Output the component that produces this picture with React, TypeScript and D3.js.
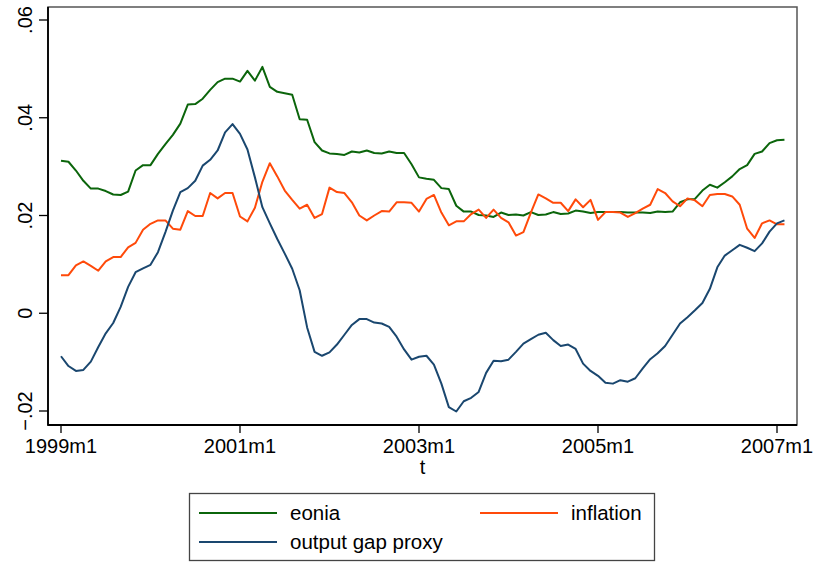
import * as d3 from 'd3';

// monthly series, 1999m1 .. 2007m2
const eonia = [
  0.0312, 0.031, 0.0292, 0.0271, 0.0255, 0.0255, 0.025, 0.0243, 0.0242, 0.0249,
  0.0292, 0.0303, 0.0303, 0.0326, 0.0346, 0.0365, 0.0388, 0.0427, 0.0428, 0.0439,
  0.0457, 0.0473, 0.048, 0.048, 0.0474, 0.0496, 0.0476, 0.0504, 0.0463, 0.0453,
  0.045, 0.0447, 0.0397, 0.0396, 0.035, 0.0333, 0.0327, 0.0326, 0.0324, 0.0331,
  0.0329, 0.0333, 0.0328, 0.0327, 0.0331, 0.0328, 0.0328, 0.0305, 0.0278, 0.0275,
  0.0273, 0.0256, 0.0254, 0.022, 0.0208, 0.0208, 0.0201, 0.02, 0.0197, 0.0206,
  0.0201, 0.0202, 0.02, 0.0207, 0.0201, 0.0202, 0.0207, 0.0203, 0.0204, 0.021,
  0.0208, 0.0205, 0.0207, 0.0207, 0.0207, 0.0207, 0.0206, 0.0206, 0.0206, 0.0205,
  0.0208, 0.0207, 0.0208, 0.0227, 0.0233, 0.0234, 0.0251, 0.0263, 0.0257, 0.0268,
  0.028, 0.0295, 0.0303, 0.0326, 0.0331, 0.0348, 0.0354, 0.0355,
];

const inflation = [
  0.0078, 0.0078, 0.0098, 0.0106, 0.0097, 0.0087, 0.0106, 0.0115, 0.0115, 0.0135,
  0.0144, 0.0171, 0.0183, 0.019, 0.019, 0.0173, 0.0171, 0.0209, 0.0199, 0.0199,
  0.0246, 0.0235, 0.0246, 0.0246, 0.0198, 0.0188, 0.0216, 0.0269, 0.0307, 0.028,
  0.0251, 0.0232, 0.0214, 0.0222, 0.0195, 0.0203, 0.0257, 0.0248, 0.0246, 0.0227,
  0.02, 0.019, 0.02, 0.0209, 0.0208, 0.0227, 0.0227, 0.0226, 0.0208, 0.0234,
  0.0242, 0.0206, 0.018, 0.0188, 0.0188, 0.0203, 0.0212, 0.0195, 0.0212, 0.0195,
  0.0186, 0.0159, 0.0166, 0.0206, 0.0243, 0.0235, 0.0226, 0.0226, 0.0209, 0.0233,
  0.0217, 0.0232, 0.0191, 0.0207, 0.0207, 0.0206, 0.0197, 0.0205, 0.0214, 0.0222,
  0.0254, 0.0246, 0.0229, 0.0219, 0.0235, 0.0231, 0.0219, 0.0242, 0.0244, 0.0244,
  0.0239, 0.0222, 0.0173, 0.0154, 0.0184, 0.019, 0.0182, 0.0182,
];

const outputGap = [
  -0.0088, -0.0108, -0.0118, -0.0116, -0.0099, -0.0069, -0.0041, -0.002, 0.0013, 0.0054,
  0.0084, 0.0092, 0.0099, 0.0125, 0.0166, 0.021, 0.0248, 0.0256, 0.0271, 0.0302,
  0.0314, 0.0333, 0.037, 0.0387, 0.0367, 0.0335, 0.0278, 0.0217, 0.0184, 0.0152,
  0.0122, 0.0091, 0.0047, -0.0029, -0.0079, -0.0087, -0.008, -0.0064, -0.0044, -0.0024,
  -0.0012, -0.0012, -0.0019, -0.0021, -0.0028, -0.0048, -0.0074, -0.0095, -0.0089, -0.0087,
  -0.0105, -0.0144, -0.0192, -0.0201, -0.018, -0.0173, -0.0161, -0.0122, -0.0097, -0.0098,
  -0.0095, -0.0079, -0.0062, -0.0053, -0.0044, -0.004, -0.0055, -0.0067, -0.0064, -0.0073,
  -0.0103, -0.0118, -0.0128, -0.0142, -0.0144, -0.0137, -0.014, -0.0133, -0.0113, -0.0094,
  -0.0082, -0.0067, -0.0044, -0.0021, -0.0008, 0.0006, 0.0021, 0.005, 0.0094, 0.0118,
  0.0129, 0.014, 0.0134, 0.0127, 0.0143, 0.0167, 0.0184, 0.019,
];

const xTickMonths = [0, 24, 48, 72, 96];
const xTickLabels = ['1999m1', '2001m1', '2003m1', '2005m1', '2007m1'];
const yTicks = [-0.02, 0, 0.02, 0.04, 0.06];
const yTickLabels = ['\u2212.02', '0', '.02', '.04', '.06'];

const seriesNames = ['eonia', 'inflation', 'output gap proxy'];
const seriesColors = ['#0b650b', '#ff4a0a', '#1a476f'];

const W = 817;
const H = 562;
const FONT = "'Liberation Sans', Arial, Helvetica, sans-serif";

export default function App() {
  const x = d3.scaleLinear().domain([0, 96]).range([61, 777]);
  const y = d3.scaleLinear().domain([-0.02, 0.06]).range([411, 20]);

  const left = 48, right = 797, top = 7, bottom = 425;

  const line = d3.line<number>()
    .x((_, i) => x(i))
    .y(d => y(d));

  const allSeries = [eonia, inflation, outputGap];

  return (
    <svg width={W} height={H} style={{ position: 'absolute', left: 0, top: 0, background: '#fff' }}
      fontFamily={FONT}>
      {/* plot region frame */}
      <rect x={left} y={top} width={right - left} height={bottom - top}
        fill="none" stroke="#555" strokeWidth={1.5} />

      {/* series */}
      {allSeries.map((s, k) => (
        <path key={k} d={line(s) || ''} fill="none" stroke={seriesColors[k]}
          strokeWidth={2} strokeLinejoin="round" />
      ))}

      {/* axes */}
      <line x1={left} x2={left} y1={top} y2={bottom + 0.75} stroke="#000" strokeWidth={1.8} />
      <line x1={left} x2={right} y1={bottom} y2={bottom} stroke="#000" strokeWidth={1.8} />

      {yTicks.map((t, i) => (
        <g key={t}>
          <line x1={39} x2={left} y1={y(t)} y2={y(t)} stroke="#000" strokeWidth={1.3} />
          <text transform={`translate(32,${y(t)}) rotate(-90)`} textAnchor="middle"
            fontSize={20} fill="#000">{yTickLabels[i]}</text>
        </g>
      ))}

      {xTickMonths.map((m, i) => (
        <g key={m}>
          <line x1={x(m)} x2={x(m)} y1={bottom} y2={433} stroke="#000" strokeWidth={1.3} />
          <text x={x(m)} y={453} textAnchor="middle" fontSize={20} fill="#000">{xTickLabels[i]}</text>
        </g>
      ))}

      <text x={(left + right) / 2} y={474} textAnchor="middle" fontSize={20} fill="#000">t</text>

      {/* legend */}
      <rect x={189.5} y={493.5} width={465} height={67} fill="#fff" stroke="#444" strokeWidth={1.3} />
      {seriesNames.map((name, k) => {
        const col = k === 1 ? 1 : 0;
        const row = k === 2 ? 1 : 0;
        const lx = col === 0 ? 199 : 480;
        const ly = 513 + row * 29;
        return (
          <g key={name}>
            <line x1={lx} x2={lx + 78} y1={ly} y2={ly} stroke={seriesColors[k]} strokeWidth={2} />
            <text x={lx + 91} y={ly + 7} fontSize={20.5} fill="#000">{name}</text>
          </g>
        );
      })}
    </svg>
  );
}
